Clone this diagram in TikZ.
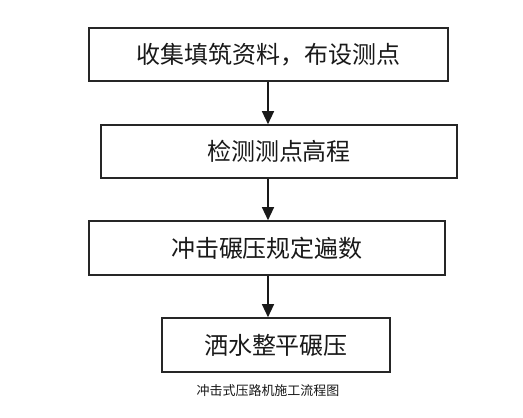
\documentclass[tikz,border=0pt]{standalone}
\usepackage{fontspec}
\usepackage{tikz}
\usetikzlibrary{arrows.meta}
\newfontfamily\cjk{Noto Sans CJK SC}
\tikzstyle{every stage node}=[draw=black!85,line width=1.6pt,inner sep=0pt,font=\cjk\fontsize{24}{27}\selectfont,text=black!90]
\tikzstyle{flowarrow}=[draw=black!90,line width=1.3pt,-{Triangle[length=13pt,width=12pt]}]

\begin{document}
\begin{tikzpicture}[x=1pt,y=-1pt]
\useasboundingbox[fill=white] (0,0) rectangle (523,418);

  \node[every stage node,minimum width=359pt,minimum height=53pt] (collect) at (268.5,54.5) {收集填筑资料，布设测点};
  \node[every stage node,minimum width=356pt,minimum height=53pt] (survey) at (279,151.5) {检测测点高程};
  \node[every stage node,minimum width=356pt,minimum height=54pt] (impact) at (267,248) {冲击碾压规定遍数};
  \node[every stage node,minimum width=228pt,minimum height=54pt] (level) at (276,345) {洒水整平碾压};

  \coordinate (axis) at (268,0);

  \draw[flowarrow] (axis |- collect.south) -- (axis |- survey.north);
  \draw[flowarrow] (axis |- survey.south) -- (axis |- impact.north);
  \draw[flowarrow] (axis |- impact.south) -- (axis |- level.north);

\node[font=\cjk\fontsize{13}{15}\selectfont,text=black!90] (caption) at (268,391) {冲击式压路机施工流程图};

\end{tikzpicture}
\end{document}
